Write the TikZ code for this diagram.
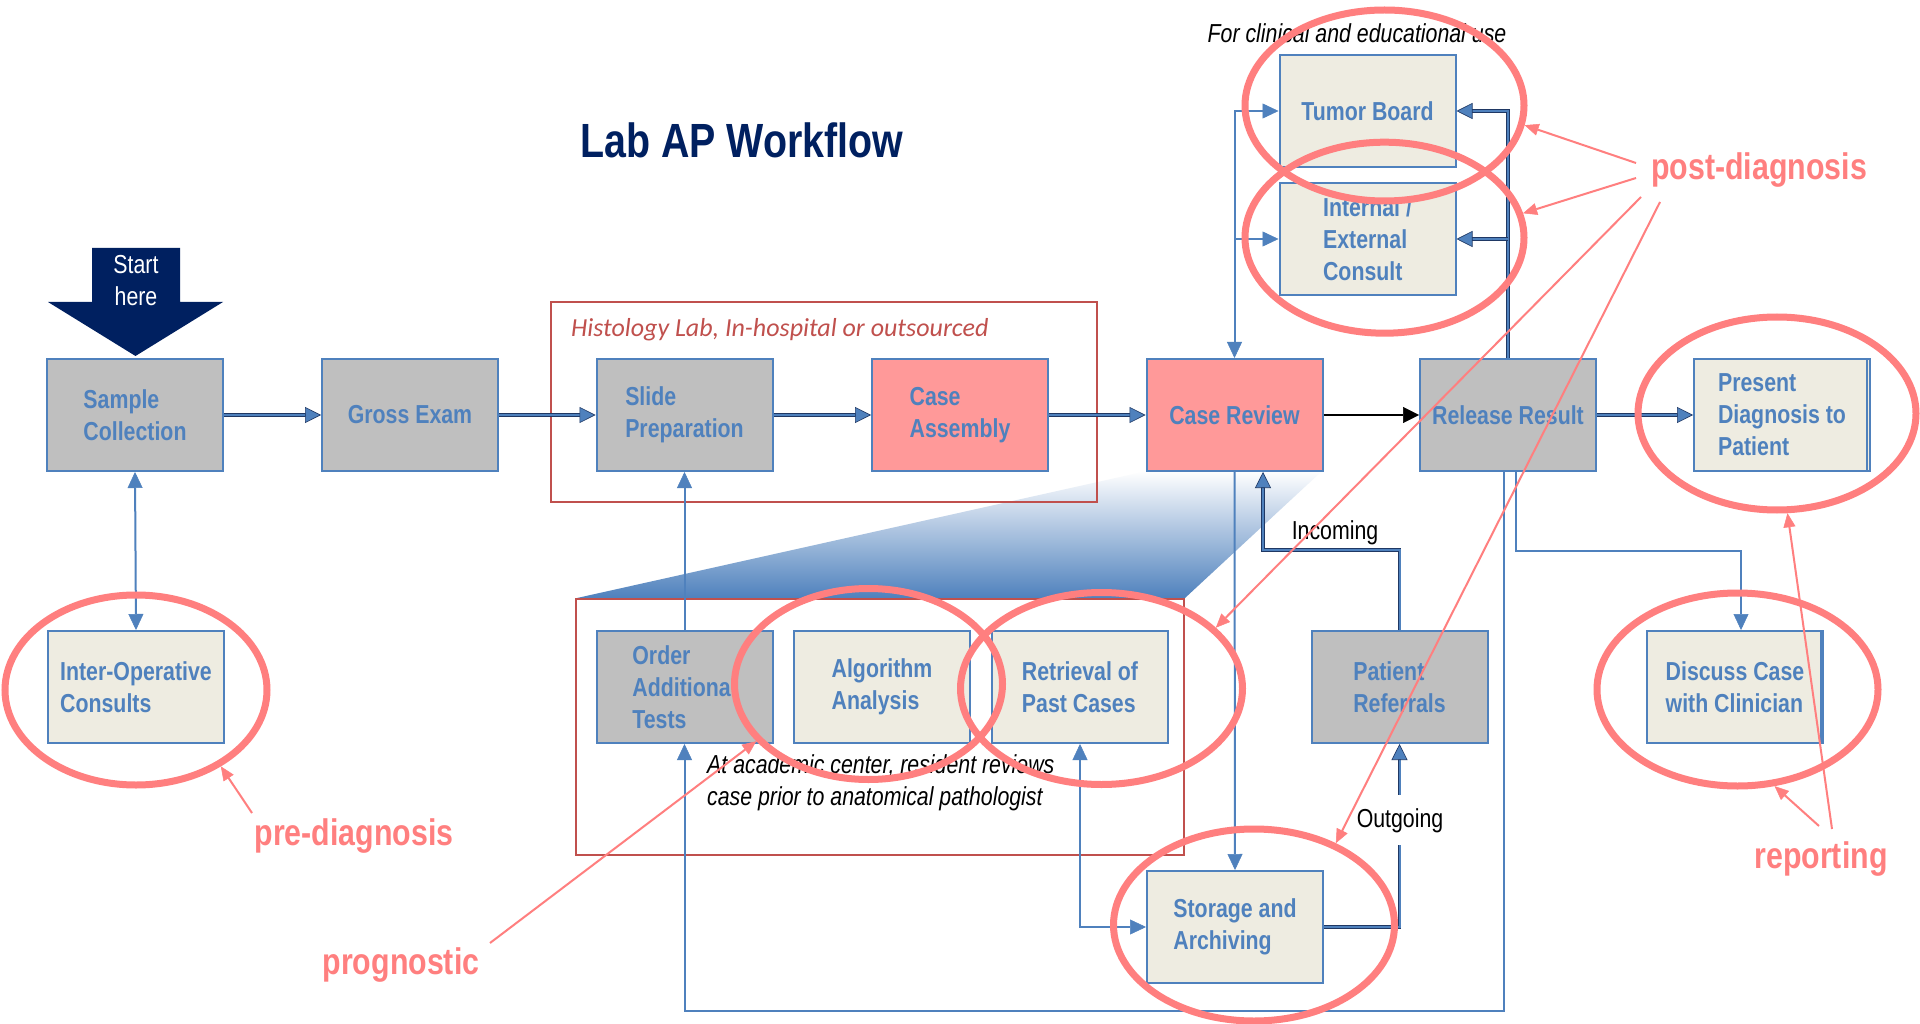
\documentclass[tikz,border=0pt]{standalone}
\usepackage{fontspec}
\setmainfont{Liberation Sans}
\newfontfamily\narrowfont{Liberation Sans}[FakeStretch=0.82]
\newfontfamily\calfont{Carlito}
\usetikzlibrary{arrows.meta,shapes.geometric,calc}
\definecolor{cblue}{HTML}{4F81BD}
\definecolor{cdark}{HTML}{1F3864}
\definecolor{cgray}{HTML}{BFBFBF}
\definecolor{cpink}{HTML}{FF9999}
\definecolor{cbeige}{HTML}{EEECE1}
\definecolor{cred}{HTML}{C0504D}
\definecolor{cann}{HTML}{FF7F7F}
\definecolor{cnavy}{HTML}{002060}
\newcommand\bxfont{\narrowfont\bfseries\fontsize{26}{32}\selectfont}
\newcommand\notefont{\narrowfont\fontsize{26}{32}\selectfont}
\newcommand\annfont{\narrowfont\bfseries\fontsize{37}{44}\selectfont}
\newcommand\ttlfont{\narrowfont\bfseries\fontsize{48}{56}\selectfont}
\tikzset{
  bx/.style={draw=cblue, line width=2pt, minimum width=176pt, minimum height=112pt,
    inner sep=0pt, align=left, text=cblue, font=\bxfont},
  grayb/.style={bx, fill=cgray},
  pinkb/.style={bx, fill=cpink},
  beigeb/.style={bx, fill=cbeige},
  frame/.style={draw=cred, line width=2.5pt, inner sep=0pt},
  flowd/.style={draw=cblue, line width=2pt,
    -{Triangle[length=16pt,width=16pt,line width=0.6pt,color=cdark,fill=cblue]},
    preaction={draw=cdark, line width=3.8pt, -, shorten >=8pt}},
  flows/.style={draw=cblue, line width=2pt,
    -{Triangle[length=16pt,width=15pt,line width=0.5pt,fill=cblue]}},
  flows2/.style={draw=cblue, line width=2pt,
    {Triangle[length=16pt,width=15pt,line width=0.5pt,fill=cblue]}-{Triangle[length=16pt,width=15pt,line width=0.5pt,fill=cblue]}},
  flowk/.style={draw=black, line width=2.5pt,
    -{Triangle[length=16pt,width=16pt,line width=0.5pt]}},
  annell/.style={ellipse, draw=cann, line width=7pt, inner sep=0pt},
  annarrow/.style={draw=cann, line width=2pt,
    -{Triangle[length=14pt,width=12pt,line width=0.5pt]}},
  annlbl/.style={text=cann, font=\annfont, inner sep=0pt},
  note/.style={text=black, font=\notefont, inner sep=0pt},
  inote/.style={text=black, font=\notefont\itshape, inner sep=0pt, align=left},
}
\begin{document}
\begin{tikzpicture}[x=1pt,y=-1pt]
\useasboundingbox (0,0) rectangle (1920,1024);
\fill[white] (0,0) rectangle (1920,1024);

% gradient zoom wedge
\shade[top color=white, bottom color=cblue] (577,598) -- (1147,471) -- (1322,471) -- (1185,598) -- cycle;

% group frames
\node[frame, minimum width=546pt, minimum height=200pt] (histo) at (824,402) {};
\node[text=cred, font=\calfont\itshape\fontsize{26}{30}\selectfont, inner sep=0pt, anchor=base west] (histlbl) at (571,337) {Histology Lab, In-hospital or outsourced};
\node[frame, minimum width=608pt, minimum height=256pt] (acad) at (880,727) {};
\node[inote, anchor=north west] (acadlbl) at (707,754) {At academic center, resident reviews\\case prior to anatomical pathologist};

% title
\node[text=cnavy, font=\ttlfont, inner sep=0pt, anchor=base west] (title) at (580,158) {Lab AP Workflow};
\node[note, font=\notefont\itshape, anchor=base] (clin) at (1357,43) {For clinical and educational use};

% start arrow
\fill[cnavy] (92,248) -- (180,248) -- (180,302) -- (223,302) -- (135.5,356) -- (48,302) -- (92,302) -- cycle;
\node[text=white, font=\notefont, align=center, inner sep=0pt] (start) at (136,281) {Start\\here};

% boxes
\node[grayb] (sc) at (135,415) {Sample\\Collection};
\node[grayb] (ge) at (410,415) {Gross Exam};
\node[grayb] (sp) at (684.5,415) {Slide\\Preparation};
\node[pinkb] (ca) at (960,415) {Case\\Assembly};
\node[pinkb] (cr) at (1234.5,415) {Case Review};
\node[grayb] (rr) at (1508,415) {Release Result};
\node[beigeb] (pd) at (1782,415) {Present\\Diagnosis to\\Patient};
\node[beigeb] (tb) at (1367.5,111) {Tumor Board};
\node[beigeb] (ie) at (1367.5,239) {Internal /\\External\\Consult};
\node[beigeb] (ioc) at (136,687) {Inter-Operative\\Consults};
\node[grayb] (oat) at (684.5,687) {Order\\Additional\\Tests};
\node[beigeb] (aa) at (882,687) {Algorithm\\Analysis};
\node[beigeb] (rpc) at (1080,687) {Retrieval of\\Past Cases};
\node[grayb] (pr) at (1399.5,687) {Patient\\Referrals};
\node[beigeb] (dc) at (1735,687) {Discuss Case\\with Clinician};
\node[beigeb] (sa) at (1235,927) {Storage and\\Archiving};
\draw[cblue, line width=1.5pt] ([xshift=-4pt]pd.north east) -- ([xshift=-4pt]pd.south east);
\draw[cblue, line width=1.5pt] ([xshift=-3pt]dc.north east) -- ([xshift=-3pt]dc.south east);

% main flow
\draw[flowd] (sc.east) -- (ge.west);
\draw[flowd] (ge.east) -- (sp.west);
\draw[flowd] (sp.east) -- (ca.west);
\draw[flowd] (ca.east) -- (cr.west);
\draw[flowk] (cr.east) -- (rr.west);
\draw[flowd] (rr.east) -- (pd.west);
\draw[flows2] (sc.south) -- (ioc.north);
\draw[flows] (oat.north) -- (sp.south);

% post-diagnosis consults
\draw[flows2] (tb.west) -| (cr.north);
\coordinate (lj) at (cr.north |- ie.west);
\draw[flows] (lj) -- (ie.west);
\draw[flowd] (rr.north) |- (tb.east);
\coordinate (rj) at (rr.north |- ie.east);
\draw[flowd] (rj) -- (ie.east);

% referrals, storage
\coordinate (inc) at ([xshift=28.5pt]cr.south);
\draw[flowd] (pr.north) -- ++(0,-80) -| (inc);
\node[note, anchor=base] (incl) at (1335,539) {Incoming};
\draw[flows] (cr.south) -- (sa.north);
\draw[flows2] (rpc.south) |- (sa.west);
\draw[flowd] (sa.east) -| (pr.south);
\node[note, anchor=base, fill=white, inner xsep=1pt, inner ysep=13pt] (outl) at (1400,827) {Outgoing};

% loops from release result
\coordinate (rrl) at ([xshift=-4pt]rr.south);
\draw[flows] (rrl) -- ++(0,539) -| (oat.south);
\coordinate (rrr) at ([xshift=8pt]rr.south);
\coordinate (dcin) at ([xshift=6pt]dc.north);
\draw[flows] (rrr) -- ++(0,79) -| (dcin);

% annotation ellipses
\node[annell, minimum width=262pt, minimum height=190pt] (eioc) at (136,690) {};
\node[annell, minimum width=279pt, minimum height=191pt] (etb) at (1384.5,105.5) {};
\node[annell, minimum width=279pt, minimum height=191pt] (eie) at (1384.5,237.7) {};
\node[annell, minimum width=278pt, minimum height=193pt] (epd) at (1777,413.5) {};
\node[annell, minimum width=281pt, minimum height=193pt] (edc) at (1737.5,689.5) {};
\node[annell, minimum width=268pt, minimum height=191pt] (eaa) at (868.5,684) {};
\node[annell, minimum width=282pt, minimum height=192pt] (erpc) at (1101.5,688.5) {};
\node[annell, minimum width=281pt, minimum height=192pt] (esa) at (1254,925) {};

% annotation labels
\node[annlbl, anchor=base] (lpre) at (354,845) {pre-diagnosis};
\node[annlbl, anchor=base] (lprog) at (401,974) {prognostic};
\node[annlbl, anchor=base] (lpost) at (1759,180) {post-diagnosis};
\node[annlbl, anchor=base] (lrep) at (1821,868) {reporting};

\coordinate (apre) at (252,813);
\draw[annarrow] (apre) -- (eioc.-42);
\coordinate (aprog) at (490,943);
\draw[annarrow] (aprog) -- (eaa.207);
\coordinate (apost1) at (1636,163);
\draw[annarrow] (apost1) -- (etb.-8.6);
\coordinate (apost2) at (1636,178);
\draw[annarrow] (apost2) -- (eie.10.4);
\coordinate (apost3) at (1641,197);
\draw[annarrow] (apost3) -- (erpc.28.6);
\coordinate (apost4) at (1660,202);
\draw[annarrow] (apost4) -- (esa.45);
\coordinate (arep1) at (1819,826);
\draw[annarrow] (arep1) -- (edc.-69.8);
\coordinate (arep2) at (1832,829);
\draw[annarrow] (arep2) -- (epd.-84.3);
\end{tikzpicture}
\end{document}
